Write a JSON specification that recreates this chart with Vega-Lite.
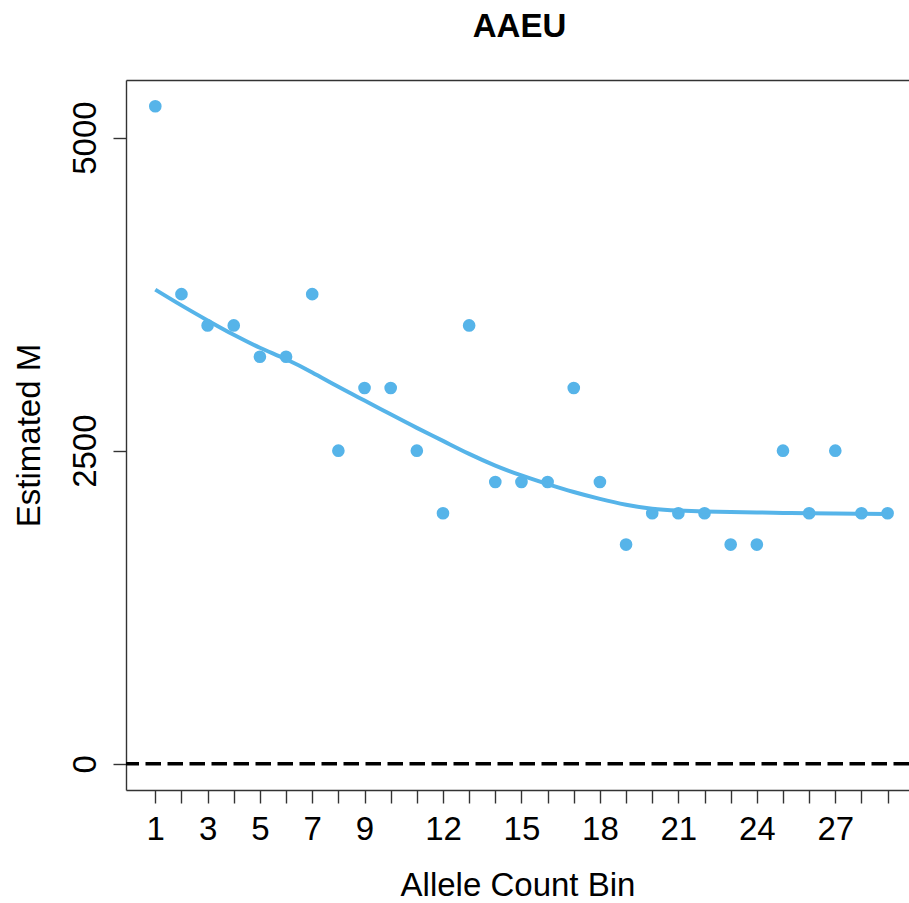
{
  "$schema": "https://vega.github.io/schema/vega-lite/v6.json",
  "autosize": {"type": "none"},
  "padding": {"left": 126, "top": 80, "right": 0, "bottom": 113},
  "width": 783,
  "height": 710,
  "background": "white",
  "view": {"stroke": null},
  "title": {"text": "AAEU", "font": "Liberation Sans", "fontSize": 33, "fontWeight": "bold", "color": "black", "anchor": "middle", "frame": "group", "offset": 36, "dx": 2},
  "config": {
    "font": "Liberation Sans",
    "axis": {"labelFont": "Liberation Sans", "titleFont": "Liberation Sans", "labelFontSize": 33, "titleFontSize": 33, "titleFontWeight": "normal", "labelColor": "black", "titleColor": "black", "domainColor": "#333", "tickColor": "#333", "domainWidth": 1.4, "tickWidth": 1.4, "grid": false}
  },
  "datasets": {
    "pts": [
      {"bin": 1, "M": 5250}, {"bin": 2, "M": 3750}, {"bin": 3, "M": 3500}, {"bin": 4, "M": 3500},
      {"bin": 5, "M": 3250}, {"bin": 6, "M": 3250}, {"bin": 7, "M": 3750}, {"bin": 8, "M": 2500},
      {"bin": 9, "M": 3000}, {"bin": 10, "M": 3000}, {"bin": 11, "M": 2500}, {"bin": 12, "M": 2000},
      {"bin": 13, "M": 3500}, {"bin": 14, "M": 2250}, {"bin": 15, "M": 2250}, {"bin": 16, "M": 2250},
      {"bin": 17, "M": 3000}, {"bin": 18, "M": 2250}, {"bin": 19, "M": 1750}, {"bin": 20, "M": 2000},
      {"bin": 21, "M": 2000}, {"bin": 22, "M": 2000}, {"bin": 23, "M": 1750}, {"bin": 24, "M": 1750},
      {"bin": 25, "M": 2500}, {"bin": 26, "M": 2000}, {"bin": 27, "M": 2500}, {"bin": 28, "M": 2000},
      {"bin": 29, "M": 2000}
    ],
    "fit": [
      {"bin": 1, "M": 3786}, {"bin": 2, "M": 3660}, {"bin": 3, "M": 3540}, {"bin": 4, "M": 3425},
      {"bin": 5, "M": 3322}, {"bin": 6, "M": 3230}, {"bin": 7, "M": 3125}, {"bin": 8, "M": 3010},
      {"bin": 9, "M": 2900}, {"bin": 10, "M": 2790}, {"bin": 11, "M": 2682}, {"bin": 12, "M": 2578},
      {"bin": 13, "M": 2474}, {"bin": 14, "M": 2381}, {"bin": 15, "M": 2302}, {"bin": 16, "M": 2233},
      {"bin": 17, "M": 2170}, {"bin": 18, "M": 2115}, {"bin": 19, "M": 2068}, {"bin": 20, "M": 2036},
      {"bin": 21, "M": 2022}, {"bin": 22, "M": 2015}, {"bin": 23, "M": 2010}, {"bin": 24, "M": 2006},
      {"bin": 25, "M": 2003}, {"bin": 26, "M": 2000}, {"bin": 27, "M": 1998}, {"bin": 28, "M": 1996},
      {"bin": 29, "M": 1994}
    ],
    "zero": [{"M": 0}]
  },
  "layer": [
    {
      "data": {"name": "pts"},
      "mark": {"type": "point", "filled": true, "size": 160, "color": "#56B4E9", "opacity": 1},
      "encoding": {
        "x": {"field": "bin", "type": "quantitative", "scale": {"domain": [-0.12, 29.818], "nice": false, "zero": false},
          "axis": {"orient": "bottom", "title": "Allele Count Bin", "values": [1,2,3,4,5,6,7,8,9,10,11,12,13,14,15,16,17,18,19,20,21,22,23,24,25,26,27,28,29],
            "labelExpr": "indexof([1,3,5,7,9,12,15,18,21,24,27], datum.value) >= 0 ? datum.label : ''",
            "labelOverlap": false, "labelFlush": false, "tickSize": 13, "labelPadding": 36, "labelBaseline": "alphabetic",
            "titleY": 105, "titleBaseline": "alphabetic"}},
        "y": {"field": "M", "type": "quantitative", "scale": {"domain": [-210, 5460], "nice": false, "zero": false},
          "axis": {"title": "Estimated M", "values": [0, 2500, 5000], "format": "d", "labelAngle": -90, "labelAlign": "center", "labelBaseline": "alphabetic",
            "tickSize": 13, "labelPadding": 18, "titleX": -87, "titleBaseline": "alphabetic", "titleAngle": -90}}
      }
    },
    {
      "data": {"name": "fit"},
      "mark": {"type": "line", "color": "#56B4E9", "strokeWidth": 4, "interpolate": "natural"},
      "encoding": {
        "x": {"field": "bin", "type": "quantitative", "axis": {"orient": "top", "labels": false, "ticks": false, "title": null}},
        "y": {"field": "M", "type": "quantitative"}
      }
    },
    {
      "data": {"name": "zero"},
      "mark": {"type": "rule", "color": "black", "strokeWidth": 3.5, "strokeDash": [15.5, 6.5]},
      "encoding": {"y": {"field": "M", "type": "quantitative"}}
    }
  ]
}
